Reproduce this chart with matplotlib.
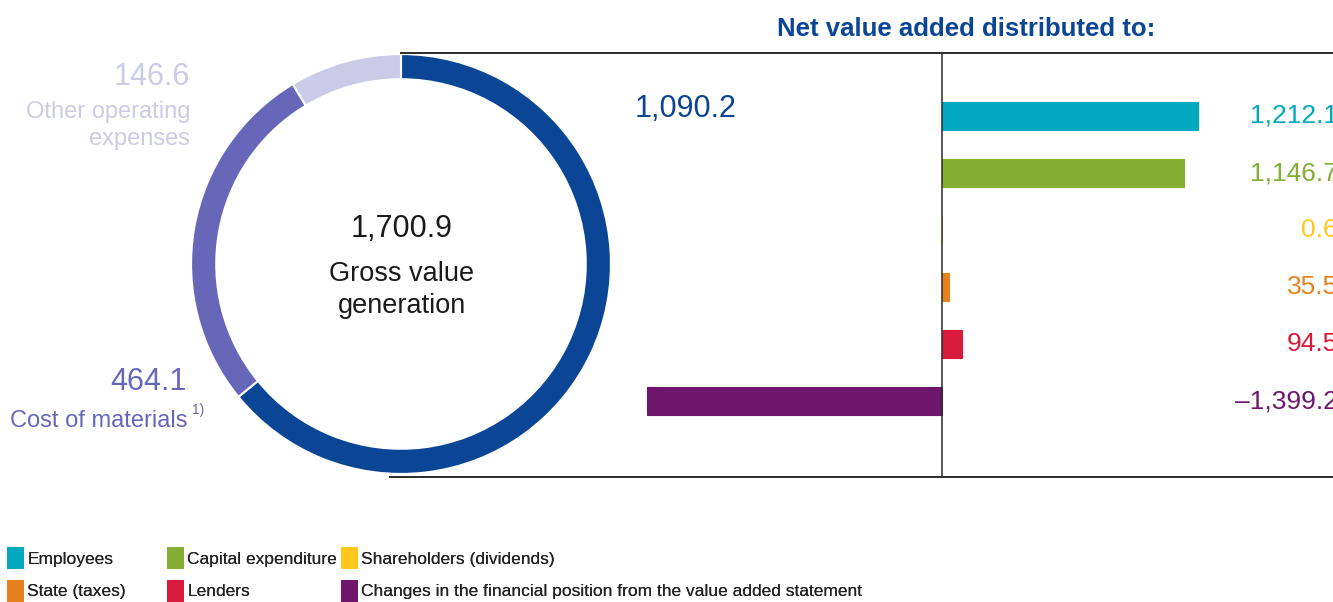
import matplotlib

matplotlib.use("Agg")
import matplotlib.pyplot as plt            # noqa: E402
from matplotlib.patches import Patch       # noqa: E402
from matplotlib.transforms import blended_transform_factory  # noqa: E402

plt.rcParams["font.family"] = ["Liberation Sans", "DejaVu Sans"]

W, H = 1333, 602

# donut: split of gross value generation
ring_names = ["Net value added", "Cost of materials", "Other operating expenses"]
ring_values = [1090.2, 464.1, 146.6]
ring_colors = ["#0B4595", "#6767BA", "#CBCBE8"]
gross_total = 1700.9

# bars: net value added distributed to
bar_names = [
    "Employees", "Capital expenditure", "Shareholders (dividends)",
    "State (taxes)", "Lenders",
    "Changes in the financial position from the value added statement",
]
bar_values = [1212.1, 1146.7, 0.6, 35.5, 94.5, -1399.2]
bar_colors = ["#00A9BF", "#84AF33", "#FFC61B", "#E6821E", "#D81B3C", "#6E166C"]

DARK_BLUE = "#0B4595"
LINE = "#2b2b2b"


def fx(x):
    return x / W


def fy(y):
    return 1 - y / H


def fmt(v):
    s = f"{abs(v):,.1f}"
    return "\u2013" + s if v < 0 else s


fig = plt.figure(figsize=(W / 100, H / 100), dpi=100)

# ---- donut ----
r, cx, cy = 211, 401, 264
ax_d = fig.add_axes([fx(cx - r), fy(cy + r), 2 * r / W, 2 * r / H])
ax_d.pie(ring_values, colors=ring_colors, startangle=90, counterclock=False,
         radius=1.0, wedgeprops=dict(width=0.12, edgecolor="white", linewidth=1.5))
ax_d.set_xlim(-1.005, 1.005)
ax_d.set_ylim(-1.005, 1.005)
ax_d.axis("off")

fig.text(fx(402), fy(237), f"{gross_total:,.1f}", ha="center", va="baseline",
         fontsize=22, color="#1a1a1a")
fig.text(fx(402), fy(281), "Gross value", ha="center", va="baseline",
         fontsize=19.5, color="#1a1a1a")
fig.text(fx(402), fy(313), "generation", ha="center", va="baseline",
         fontsize=19.5, color="#1a1a1a")

fig.text(fx(686), fy(117), fmt(ring_values[0]), ha="center", va="baseline",
         fontsize=22, color=ring_colors[0])

fig.text(fx(190), fy(85), fmt(ring_values[2]), ha="right", va="baseline",
         fontsize=22, color=ring_colors[2])
fig.text(fx(190), fy(118), "Other operating", ha="right", va="baseline",
         fontsize=17, color=ring_colors[2])
fig.text(fx(190), fy(145), "expenses", ha="right", va="baseline",
         fontsize=17, color=ring_colors[2])

fig.text(fx(187), fy(390), fmt(ring_values[1]), ha="right", va="baseline",
         fontsize=22, color=ring_colors[1])
fig.text(fx(188), fy(427), "Cost of materials", ha="right", va="baseline",
         fontsize=17, color=ring_colors[1])
fig.text(fx(192), fy(414), "1)", ha="left", va="baseline",
         fontsize=10, color=ring_colors[1])

# ---- bars ----
left, right, top, bottom = 390, 1333, 53, 477
zero_px, scale = 942, 0.211            # px per unit
pitch, first_px = 57, 116
ax_b = fig.add_axes([fx(left), fy(bottom), (right - left) / W, (bottom - top) / H])
ypos = list(range(len(bar_values)))
ax_b.barh(ypos, bar_values, height=0.49, color=bar_colors,
          edgecolor=bar_colors, linewidth=0.8, zorder=2)
xlim = (-(zero_px - left) / scale, (right - zero_px) / scale)
ax_b.set_xlim(*xlim)
ax_b.set_ylim(len(bar_values) - 1 + (bottom - (first_px + 5 * pitch)) / pitch,
              -(first_px - top) / pitch)
ax_b.set_xticks([])
ax_b.set_yticks([])
for side in ("left", "right"):
    ax_b.spines[side].set_visible(False)
for side in ("top", "bottom"):
    ax_b.spines[side].set_color(LINE)
    ax_b.spines[side].set_linewidth(1.4)
ax_b.spines["top"].set_bounds(xlim[0] + (cx - left) / scale, xlim[1])
ax_b.axvline(0, color=LINE, lw=1.1, zorder=3)
ax_b.patch.set_alpha(0)

tr = blended_transform_factory(ax_b.transAxes, ax_b.transData)
for y, v, c in zip(ypos, bar_values, bar_colors):
    ax_b.text(1.0053, y, fmt(v), transform=tr, ha="right", va="center",
              fontsize=19, color=c)

fig.text(fx(966), fy(36), "Net value added distributed to:", ha="center",
         va="baseline", fontsize=18.5, fontweight="bold", color=DARK_BLUE)

# ---- legend: three columns, two rows ----
handles = [Patch(facecolor=c, edgecolor="none", label=n)
           for n, c in zip(bar_names, bar_colors)]
for col, x0 in enumerate([7, 167, 341]):
    leg = fig.legend(handles=[handles[col], handles[col + 3]], ncol=1,
                     loc="upper left", bbox_to_anchor=(fx(x0), fy(547)),
                     frameon=False, prop=dict(size=12.5),
                     labelcolor="#222222", handlelength=0.98, handleheight=1.57,
                     handletextpad=0.18, labelspacing=0.62,
                     borderaxespad=0, borderpad=0)
    fig.add_artist(leg)

fig.savefig("out.png", dpi=100)
